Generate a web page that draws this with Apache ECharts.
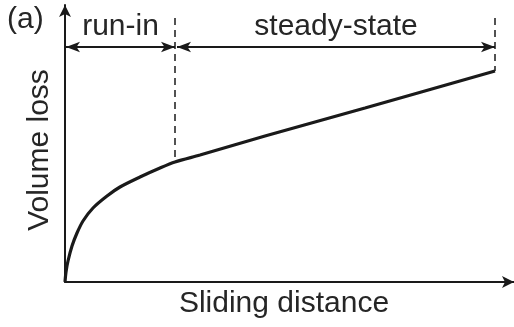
<!DOCTYPE html>
<html>
<head>
<meta charset="utf-8">
<script src="https://cdn.jsdelivr.net/npm/echarts@6/dist/echarts.min.js"></script>
<style>html,body{margin:0;padding:0;background:#fff}#c{width:514px;height:327px}</style>
</head>
<body>
<div id="c"></div>
<script>
// Curve (x: sliding distance, y: volume loss), arbitrary units
const distance = [0, 1, 3, 7, 12, 18, 28, 42, 55, 75, 95, 110, 135, 200, 300, 430];
const volumeLoss = [0, 10, 21, 36, 49, 61, 74, 86, 95, 105, 114, 120, 127, 146, 174, 211];
const runInEnd = 110;
const steadyEnd = 430;
const arrowLevel = 235;
const dashTop = 264;
const labels = { panel: '(a)', runIn: 'run-in', steady: 'steady-state', xName: 'Sliding distance', yName: 'Volume loss' };

const chart = echarts.init(document.getElementById('c'));
const ink = '#1a1a1a';
const textColor = '#262626';
const font = 'Liberation Sans, Arial, sans-serif';
const fs = 30;

chart.setOption({
  animation: false,
  grid: { left: 65, right: 0, top: 5, bottom: 45 },
  xAxis: {
    type: 'value', min: 0, max: 449,
    axisLine: { show: true, symbol: ['none', 'arrow'], symbolSize: [9, 12], lineStyle: { color: ink, width: 2 } },
    axisTick: { show: false }, axisLabel: { show: false }, splitLine: { show: false }
  },
  yAxis: {
    type: 'value', min: 0, max: 277,
    axisLine: { show: true, symbol: ['none', 'arrow'], symbolSize: [9, 12], lineStyle: { color: ink, width: 2 } },
    axisTick: { show: false }, axisLabel: { show: false }, splitLine: { show: false }
  },
  series: [{
    type: 'line',
    data: distance.map((d, i) => [d, volumeLoss[i]]),
    smooth: 0.3,
    showSymbol: false,
    lineStyle: { color: ink, width: 3.2 },
    markLine: {
      silent: true,
      symbol: ['none', 'none'],
      data: [
        [{ coord: [runInEnd, dashTop], lineStyle: { type: [7, 5], width: 1.5, color: ink } }, { coord: [runInEnd, volumeLoss[11]] }],
        [{ coord: [steadyEnd, dashTop], lineStyle: { type: [7, 5], width: 1.5, color: ink } }, { coord: [steadyEnd, volumeLoss[15]] }],
        [{ coord: [1, arrowLevel], symbol: 'arrow', symbolSize: [8, 14], lineStyle: { type: 'solid', width: 2, color: ink },
           label: { show: true, position: 'insideMiddleTop', formatter: labels.runIn, fontSize: fs, fontFamily: font, color: textColor, distance: 5 } },
         { coord: [runInEnd, arrowLevel], symbol: 'arrow', symbolSize: [8, 14] }],
        [{ coord: [runInEnd + 2, arrowLevel], symbol: 'arrow', symbolSize: [8, 14], lineStyle: { type: 'solid', width: 2, color: ink },
           label: { show: true, position: 'insideMiddleTop', formatter: labels.steady, fontSize: fs, fontFamily: font, color: textColor, distance: 5 } },
         { coord: [steadyEnd, arrowLevel], symbol: 'arrow', symbolSize: [8, 14] }]
      ]
    }
  }],
  graphic: [
    { type: 'text', left: 7, top: 5, style: { text: labels.panel, font: fs + 'px ' + font, fill: textColor } },
    { type: 'text', x: 284, y: 304, style: { text: labels.xName, font: fs + 'px ' + font, fill: textColor, align: 'center', verticalAlign: 'middle' } },
    { type: 'text', x: 40, y: 150, rotation: Math.PI / 2, style: { text: labels.yName, font: fs + 'px ' + font, fill: textColor, align: 'center', verticalAlign: 'middle' } }
  ]
});
</script>
</body>
</html>
